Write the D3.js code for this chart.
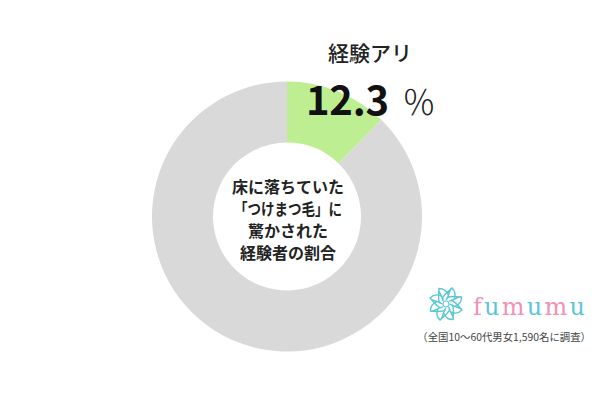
<!DOCTYPE html>
<html><head><meta charset="utf-8">
<script src="https://cdn.jsdelivr.net/npm/d3@7"></script>
<style>html,body{margin:0;padding:0;background:#fff;}svg{display:block;}</style>
</head><body>
<svg id="chart" width="600" height="400"></svg>
<script>
const categories = ["経験アリ", "その他"];
const values = [12.3, 87.7];
const colors = ["#bdef92", "#d9d9d9"];
const centerLines = ["床に落ちていた", "「つけまつ毛」に", "驚かされた", "経験者の割合"];
const labelTitle = "経験アリ";
const labelValue = "12.3";
const labelUnit = "％";
const footnote = "（全国10〜60代男女1,590名に調査）";
const brand = ["f","u","m","u","m","u"];

const svg = d3.select("#chart");
const cx = 287, cy = 216.5, rOuter = 135, rInner = 74;
const jp = "'Noto Sans CJK JP', 'Noto Sans', sans-serif";

const pie = d3.pie().sort(null).value(d => d);
const arc = d3.arc().innerRadius(rInner).outerRadius(rOuter);
const g = svg.append("g").attr("transform", `translate(${cx},${cy})`);
g.selectAll("path").data(pie(values)).join("path")
  .attr("d", arc).attr("fill", (d, i) => colors[i]);

// center text
const ct = svg.append("g").attr("font-family", jp).attr("font-weight", 700)
  .attr("font-size", 16).attr("fill", "#222").attr("text-anchor", "middle");
centerLines.forEach((t, i) => {
  const tx = ct.append("text").attr("x", cx + 1).attr("y", 187 + i * 22).attr("dy", "0.36em").text(t);
  if (i === 1) tx.attr("textLength", 108).attr("lengthAdjust", "spacingAndGlyphs");
});

// top label
svg.append("text").attr("x", 370).attr("y", 53).attr("dy", "0.36em")
  .attr("text-anchor", "middle").attr("font-family", jp).attr("font-size", 21)
  .attr("font-weight", 500).attr("fill", "#222").text(labelTitle);
svg.append("text").attr("x", 306).attr("y", 115)
  .attr("font-family", jp).attr("font-size", 40).attr("font-weight", 700)
  .attr("fill", "#111").attr("textLength", 83).text(labelValue);
svg.append("text").attr("x", 402).attr("y", 115)
  .attr("font-family", jp).attr("font-size", 34).attr("font-weight", 300)
  .attr("fill", "#222").text(labelUnit);

// logo flower
const fl = svg.append("g").attr("transform", "translate(446,304)")
  .attr("fill", "none").attr("stroke", "#5cc6d6").attr("stroke-width", 1.4);
d3.range(8).forEach(i => {
  const a = i * 45;
  fl.append("path").attr("transform", `rotate(${a})`)
    .attr("d", "M0,-4 C4,-8 2,-14 6,-16 C9,-13 10,-9 8,-5 M6,-16 C2,-12 -2,-10 -4,-5");
});
fl.append("circle").attr("r", 3).attr("stroke-width", 1.2);

// brand text
const bt = svg.append("text").attr("x", 473).attr("y", 315)
  .attr("font-family", "'DejaVu Serif', 'Liberation Serif', serif")
  .attr("font-size", 24).attr("letter-spacing", 2.2);
brand.forEach((c, i) => {
  bt.append("tspan").attr("fill", i % 2 === 0 ? "#f391b4" : "#5cc6d6").text(c);
});

// footnote
svg.append("text").attr("x", 591).attr("y", 337).attr("dy", "0.36em")
  .attr("text-anchor", "end").attr("font-family", jp).attr("font-size", 10.4)
  .attr("fill", "#444").text(footnote);
</script>
</body></html>
